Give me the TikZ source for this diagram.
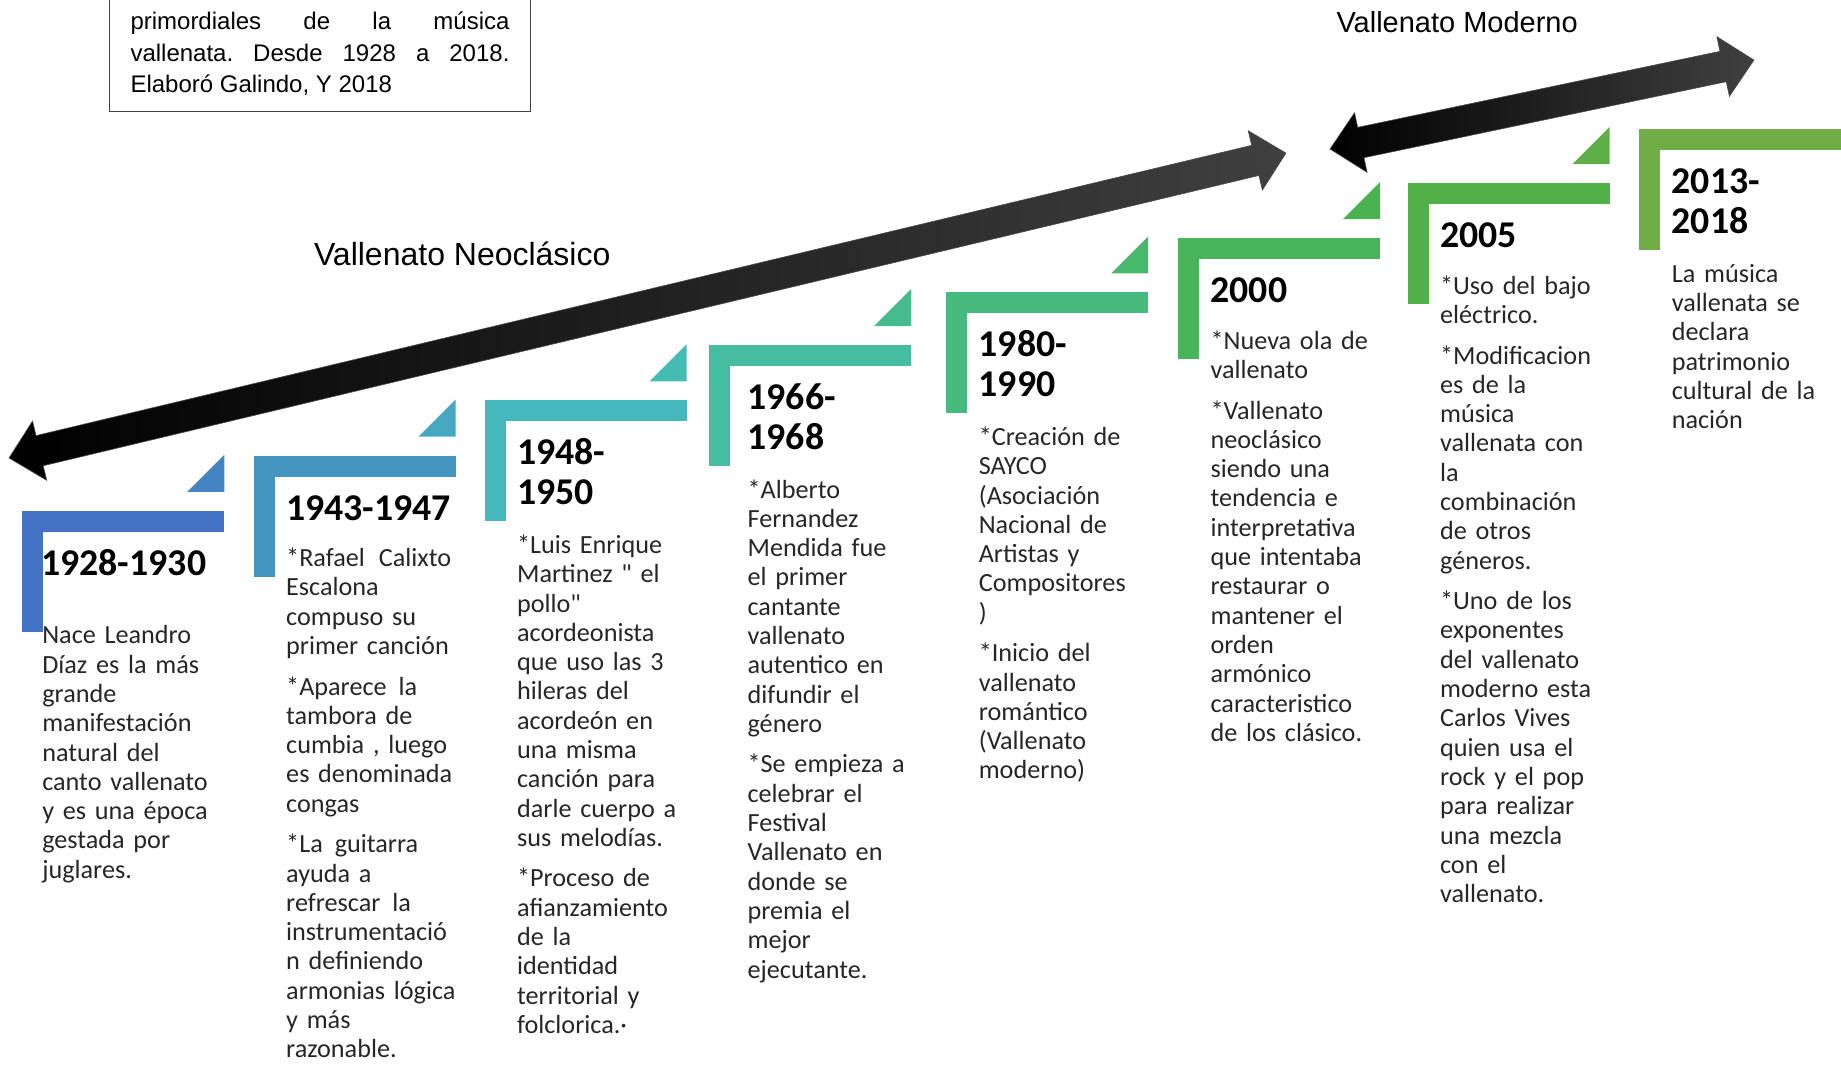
\documentclass[tikz,border=0pt]{standalone}
\usepackage{fontspec}
\setmainfont{Carlito}[Ligatures = TeXOff]
\newfontfamily\arialfont{Liberation Sans}[Ligatures = TeXOff]
\usetikzlibrary{positioning}
\frenchspacing

\definecolor{c1}{HTML}{4472C4}
\definecolor{c2}{HTML}{4495C0}
\definecolor{c3}{HTML}{45B8BE}
\definecolor{c4}{HTML}{46BCA0}
\definecolor{c5}{HTML}{47BA7E}
\definecolor{c6}{HTML}{47B35A}
\definecolor{c7}{HTML}{52B048}
\definecolor{c8}{HTML}{70AD47}
\definecolor{t1}{HTML}{4584C2}
\definecolor{t2}{HTML}{45A7C0}
\definecolor{t3}{HTML}{45BCB2}
\definecolor{t4}{HTML}{46BB8E}
\definecolor{t5}{HTML}{47B76C}
\definecolor{t6}{HTML}{4BB251}
\definecolor{t7}{HTML}{5EAF47}

\def \barlen {202}
\def \barw {21}
\def \barh {121}
\def \gap {5.6pt}

\begin{document}
\begin{tikzpicture}[
    x = 0.5pt, y = -0.5pt,
    every node/.style = {inner sep = 0pt, outer sep = 0pt},
    year/.style = {
      anchor = north west, align = left,
      font = \fontsize{18.9}{20}\selectfont\bfseries
    },
    desc/.style = {
      anchor = north west, text width = 105pt, align = left,
      text = black!85, font = \fontsize{13.1}{14.65}\selectfont
    },
    era/.style = { anchor = base west, font = \arialfont },
    arrowbody/.style = {
      left color = black, middle color = black, right color = black!75,
      draw = black!70, line width = 0.3pt
    }
  ]
  \useasboundingbox (0,0) rectangle (1841,1065);

  \coordinate (b1) at (22.3, 510.8);
  \coordinate (b2) at (253.6, 455.6);
  \coordinate (b3) at (484.5, 400.4);
  \coordinate (b4) at (709, 345);
  \coordinate (b5) at (946.2, 292.4);
  \coordinate (b6) at (1178, 238.2);
  \coordinate (b7) at (1407.5, 183.2);
  \coordinate (b8) at (1639.2, 129.2);

  \foreach \n in {1,...,8} {
    \fill[fill = c\n] (b\n) rectangle ++(\barlen, \barw);
    \fill[fill = c\n] (b\n) rectangle ++(\barw, \barh);
  }
  \foreach \n in {1,...,7}
    \fill[fill = t\n] (b\n) ++(\barlen, -19) -- ++(0, -37) -- ++(-37, 37) -- cycle;

  \coordinate (n1) at (9, 458);
  \coordinate (n2) at (1330, 149);
  \begin{scope}[shift = {(n1)}, rotate = 13.43]
    \path[arrowbody] (0,0) -- (31.5,-30.5) -- (31.5,-15.5) -- (1281.4,-15.5)
      -- (1281.4,-30.5) -- (1312.9,0) -- (1281.4,30.5) -- (1281.4,15.5)
      -- (31.5,15.5) -- (31.5,30.5) -- cycle;
  \end{scope}
  \begin{scope}[shift = {(n2)}, rotate = 11.85]
    \path[arrowbody] (0,0) -- (31.5,-30.5) -- (31.5,-15.5) -- (401.7,-15.5)
      -- (401.7,-30.5) -- (433.2,0) -- (401.7,30.5) -- (401.7,15.5)
      -- (31.5,15.5) -- (31.5,30.5) -- cycle;
  \end{scope}

  \node[era, font = \arialfont\fontsize{16}{19}\selectfont] (neo)
    at (314, 265) {Vallenato Neoclásico};
  \node[era, font = \arialfont\fontsize{14.5}{17}\selectfont] (mod)
    at (1336.5, 33) {Vallenato Moderno};

  \draw[line width = 0.75pt, draw = black!75] (109.5,-10) rectangle (530.5,111.5);
  \node[anchor = north west, align = left,
    font = \arialfont\fontsize{12}{15.65}\selectfont] (nota) at (130.5, 8)
    {\strut\makebox[189.5pt][s]{primordiales de la música}\\
     \makebox[189.5pt][s]{vallenata. Desde 1928 a 2018.}\\
     Elaboró Galindo, Y 2018};

  \node[year, below right = 18.2pt and 9.5pt of b1] (y1) {\strut 1928-1930};
  \node[year, below right = 18.2pt and 16.3pt of b2] (y2) {\strut 1943-1947};
  \node[year, below right = 18.2pt and 16.3pt of b3] (y3) {\strut 1948-\\1950};
  \node[year, below right = 18.2pt and 19.3pt of b4] (y4) {\strut 1966-\\1968};
  \node[year, below right = 18.2pt and 16.3pt of b5] (y5) {\strut 1980-\\1990};
  \node[year, below right = 18.2pt and 16.3pt of b6] (y6) {\strut 2000};
  \node[year, below right = 18.2pt and 16.3pt of b7] (y7) {\strut 2005};
  \node[year, below right = 18.2pt and 16.3pt of b8] (y8) {\strut 2013-\\2018};

  \node[desc, below right = 56.25pt and 10pt of b1] (d1)
    {\strut Nace Leandro\\ Díaz es la más\\ grande\\ manifestación\\ natural del\\
     canto vallenato\\ y es una época\\ gestada por\\ juglares.};
  \node[desc, below right = 45.25pt and 16.3pt of b2] (d2)
    {\strut *Rafael\hspace{7pt}Calixto\\ Escalona\\ compuso su\\ primer canción\\[\gap]
     *Aparece\hspace{6pt}la\\ tambora de\\ cumbia , luego\\ es denominada\\ congas\\[\gap]
     *La\hspace{6pt}guitarra\\ ayuda a\\ refrescar\hspace{6pt}la\\ instrumentació\\
     n definiendo\\ armonias lógica\\ y más\\ razonable.};
  \node[desc, below right = 66.25pt and 16.3pt of b3] (d3)
    {\strut *Luis Enrique\\ Martinez " el\\ pollo"\\ acordeonista\\ que uso las 3\\
     hileras del\\ acordeón en\\ una misma\\ canción para\\ darle cuerpo a\\
     sus melodías.\\[\gap]
     *Proceso de\\ afianzamiento\\ de la\\ identidad\\ territorial y\\ folclorica.·};
  \node[desc, below right = 66.25pt and 19.3pt of b4] (d4)
    {\strut *Alberto\\ Fernandez\\ Mendida fue\\ el primer\\ cantante\\ vallenato\\
     autentico en\\ difundir el\\ género\\[\gap]
     *Se empieza a\\ celebrar el\\ Festival\\ Vallenato en\\ donde se\\ premia el\\
     mejor\\ ejecutante.};
  \node[desc, below right = 66.25pt and 16.3pt of b5] (d5)
    {\strut *Creación de\\ SAYCO\\ (Asociación\\ Nacional de\\ Artistas y\\
     Compositores\\ )\\[\gap]
     *Inicio del\\ vallenato\\ romántico\\ (Vallenato\\ moderno)};
  \node[desc, below right = 45.25pt and 16.3pt of b6] (d6)
    {\strut *Nueva ola de\\ vallenato\\[\gap]
     *Vallenato\\ neoclásico\\ siendo una\\ tendencia e\\ interpretativa\\
     que intentaba\\ restaurar o\\ mantener el\\ orden\\ armónico\\ caracteristico\\
     de los clásico.};
  \node[desc, below right = 45.25pt and 16.3pt of b7] (d7)
    {\strut *Uso del bajo\\ eléctrico.\\[\gap]
     *Modificacion\\ es de la\\ música\\ vallenata con\\ la\\ combinación\\
     de otros\\ géneros.\\[\gap]
     *Uno de los\\ exponentes\\ del vallenato\\ moderno esta\\ Carlos Vives\\
     quien usa el\\ rock y el pop\\ para realizar\\ una mezcla\\ con el\\ vallenato.};
  \node[desc, below right = 66.25pt and 16.3pt of b8] (d8)
    {\strut La música\\ vallenata se\\ declara\\ patrimonio\\ cultural de la\\ nación};
\end{tikzpicture}
\end{document}
